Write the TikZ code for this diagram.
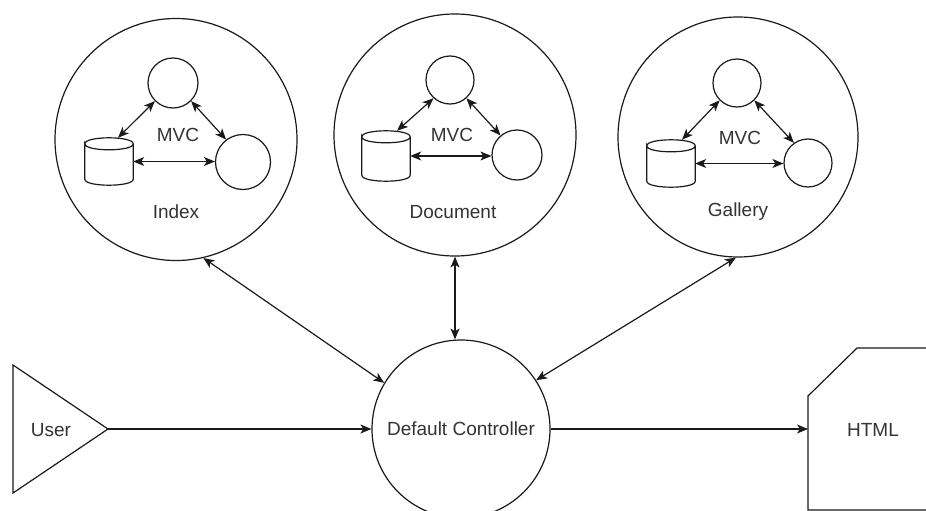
\documentclass[tikz,border=0pt]{standalone}
\usepackage{fontspec}
\setmainfont{Liberation Sans}
\usetikzlibrary{arrows.meta,calc}
\definecolor{lncol}{HTML}{1A1A1A}
\definecolor{txcol}{HTML}{333333}
\tikzset{
  ln/.style={draw=lncol, line width=1.2pt},
  bigc/.style={circle, ln, minimum size=242pt, inner sep=0pt},
  smc/.style={circle, ln, inner sep=0pt},
  dbn/.style={rectangle, minimum width=48pt, minimum height=47pt, inner sep=0pt},
  arr/.style={ln, {Stealth[length=11pt,width=9pt,inset=3pt]}-{Stealth[length=11pt,width=9pt,inset=3pt]}},
  arrone/.style={ln, -{Stealth[length=11pt,width=9pt,inset=3pt]}},
  lab/.style={text=txcol, inner sep=1pt}
}
\newcommand\dbshape[1]{%
  \draw[ln] ($(#1.north west)+(0,6)$) .. controls ($(#1.north west)+(0,-2)$) and ($(#1.north east)+(0,-2)$) .. ($(#1.north east)+(0,6)$)
    .. controls ($(#1.north east)+(0,14)$) and ($(#1.north west)+(0,14)$) .. ($(#1.north west)+(0,6)$)
    -- ($(#1.south west)+(0,-6)$)
    .. controls ($(#1.south west)+(0,2)$) and ($(#1.south east)+(0,2)$) .. ($(#1.south east)+(0,-6)$)
    -- ($(#1.north east)+(0,6)$);}
\begin{document}
\begin{tikzpicture}[x=1pt,y=-1pt, font=\fontsize{19}{22}\selectfont]
\useasboundingbox (0,0) rectangle (926,511);
\fill[white] (0,0) rectangle (926,511);
\clip (0,0) rectangle (926,511);

% ---------- Index group ----------
\node[bigc] (idx) at (176,139.5) {};
\node[lab] (idx-lab) at (176,212) {Index};
\node[lab] (idx-mvc) at (178,135) {MVC};
\node[smc, minimum size=50pt] (idx-t) at (173,83) {};
\node[smc, minimum size=55pt] (idx-r) at (243,162) {};
\node[dbn] (idx-db) at (109,161.5) {};
\dbshape{idx-db}
\draw[arr] ([xshift=9pt]idx-db.north) -- (idx-t.225);
\draw[arr] (idx-t.315) -- (idx-r.127);
\draw[arr] (idx-db.east) -- (idx-db.east -| idx-r.west);

% ---------- Document group ----------
\node[bigc] (doc) at (455,135) {};
\node[lab] (doc-lab) at (453,212) {Document};
\node[lab] (doc-mvc) at (452,135) {MVC};
\node[smc, minimum size=48pt] (doc-t) at (450,80) {};
\node[smc, minimum size=50pt] (doc-r) at (517,155) {};
\node[dbn, minimum height=50pt] (doc-db) at (386,156) {};
\dbshape{doc-db}
\draw[arr] ([xshift=11pt]doc-db.north) -- (doc-t.228);
\draw[arr] (doc-t.312) -- (doc-r.130);
\draw[arr] (doc-db.east) -- (doc-db.east -| doc-r.west);

% ---------- Gallery group ----------
\node[bigc, minimum size=240pt] (gal) at (738,137) {};
\node[lab] (gal-lab) at (738,212) {Gallery};
\node[lab] (gal-mvc) at (740,138) {MVC};
\node[smc, minimum size=48pt] (gal-t) at (737,83) {};
\node[smc, minimum size=48pt] (gal-r) at (808,163) {};
\node[dbn] (gal-db) at (671,163.5) {};
\dbshape{gal-db}
\draw[arr] ([xshift=11pt]gal-db.north) -- (gal-t.225);
\draw[arr] (gal-t.315) -- (gal-r.125);
\draw[arr] (gal-db.east) -- (gal-db.east -| gal-r.west);

% ---------- Controller ----------
\node[circle, ln, minimum size=178pt, inner sep=0pt, text=txcol] (ctl) at (461,429) {Default Controller};

% ---------- User ----------
\coordinate (u-top) at (13,365);
\coordinate (u-bot) at (13,493);
\coordinate (u-tip) at (108,429);
\draw[ln, line join=miter] (u-top) -- (u-tip) -- (u-bot) -- cycle;
\node[lab] (user) at (51,430) {User};

% ---------- HTML ----------
\coordinate (h-w) at (808,429);
\draw[ln] (808,396) -- (857,348) -- (940,348) -- (940,510) -- (808,510) -- cycle;
\node[lab] (html) at (873,430) {HTML};

% ---------- connectors ----------
\draw[arr] (idx.-77) -- (ctl.149);
\draw[arr] (doc.south) -- (doc.south |- ctl.north);
\draw[arr] (gal.-91) -- (ctl.33);
\draw[arrone] (u-tip) -- (ctl.west);
\draw[arrone] (ctl.east) -- (h-w);
\end{tikzpicture}
\end{document}
